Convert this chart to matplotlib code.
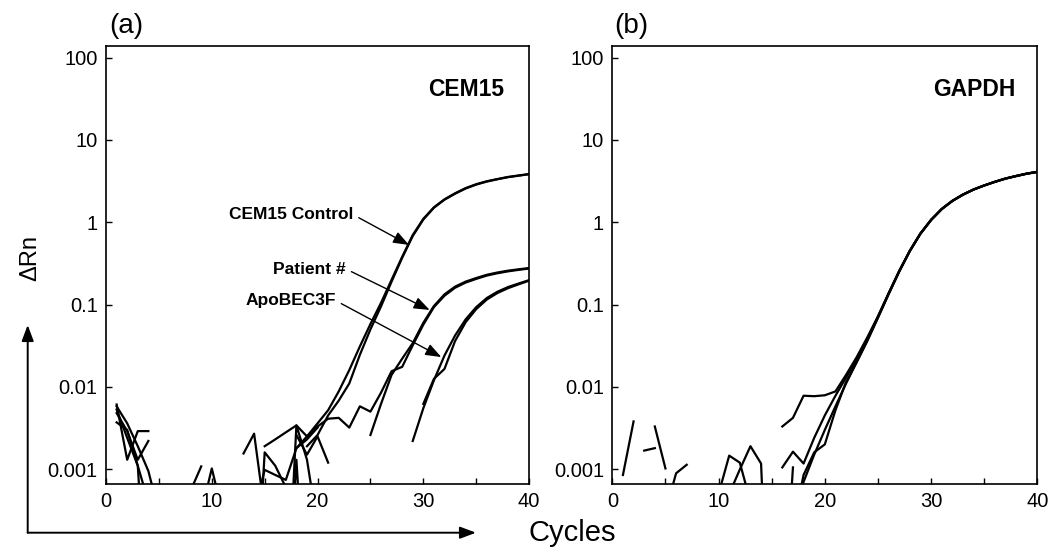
import numpy as np
import matplotlib.pyplot as plt
from matplotlib.patches import FancyArrowPatch

plt.rcParams['font.family'] = ['Liberation Sans', 'DejaVu Sans']

# DATA ------------------------------------------------------------------------
# panel (a) CEM15 (cycle -> delta Rn)
ctrl1_x = list(range(18, 41))
ctrl1_y = [0.0018, 0.0025, 0.0036, 0.0052, 0.0088, 0.016, 0.031, 0.058, 0.105, 0.2,
           0.38, 0.7, 1.1, 1.52, 1.9, 2.25, 2.6, 2.9, 3.15, 3.35, 3.55, 3.7, 3.85]
ctrl2_x = list(range(19, 41))
ctrl2_y = [0.0019, 0.0026, 0.0045, 0.0068, 0.011, 0.0245, 0.05, 0.095, 0.19, 0.37,
           0.68, 1.08, 1.5, 1.88, 2.22, 2.57, 2.87, 3.12, 3.33, 3.53, 3.68, 3.84]
pat1_x = list(range(25, 41))
pat1_y = [0.0026, 0.0062, 0.014, 0.022, 0.034, 0.06, 0.096, 0.133, 0.165, 0.19,
          0.21, 0.23, 0.245, 0.258, 0.268, 0.278]
pat2_x = list(range(15, 41))
pat2_y = [0.0019, 0.0023, 0.0028, 0.0034, 0.0025, 0.0033, 0.0041, 0.0042, 0.0032, 0.0058,
          0.005, 0.0085, 0.0155, 0.0175, 0.032, 0.057, 0.093, 0.128, 0.16, 0.185,
          0.205, 0.225, 0.24, 0.253, 0.264, 0.274]
apo1_x = list(range(29, 41))
apo1_y = [0.0022, 0.0055, 0.012, 0.024, 0.042, 0.066, 0.093, 0.12, 0.143, 0.163, 0.18, 0.198]
apo2_x = list(range(30, 41))
apo2_y = [0.0062, 0.0125, 0.0165, 0.036, 0.061, 0.088, 0.115, 0.138, 0.158, 0.176, 0.195]

# background noise pieces, panel (a)
noise_a_x = [[1, 2, 3, 4], [1, 2, 3, 4, 5], [1, 2, 3, 4], [1, 2, 3, 4], [1, 2, 3, 4],
             [8, 9], [9, 10, 11], [13, 14, 15], [14, 15, 16, 17, 18, 19, 20],
             [14, 15, 16, 17], [17, 18, 19, 20], [17, 18, 19], [18, 19, 20, 21]]
noise_a_y = [[0.0061, 0.0013, 0.0029, 0.0029], [0.0058, 0.0036, 0.0019, 0.00095, 0.0003],
             [0.0048, 0.0029, 0.0013, 0.0022], [0.0053, 0.0024, 0.0011, 0.0004],
             [0.0037, 0.003, 0.0011, 1e-5],
             [0.00055, 0.00108], [0.0003, 0.00102, 0.0003], [0.00155, 0.0027, 0.0003],
             [0.0003, 0.00098, 0.00085, 0.00074, 0.0018, 0.0023, 0.0032],
             [1e-5, 0.0016, 0.0011, 0.0006], [1e-5, 0.0034, 0.0013, 0.0002],
             [1e-5, 0.0013, 1e-5], [0.0026, 0.0015, 0.0025, 0.0012]]

# panel (b) GAPDH
gb1_x = list(range(17, 41))
gb1_y = [0.0002, 0.0007, 0.0015, 0.003, 0.0058, 0.011, 0.02, 0.037, 0.07, 0.135, 0.255, 0.45,
         0.73, 1.07, 1.45, 1.82, 2.17, 2.5, 2.8, 3.1, 3.4, 3.65, 3.9, 4.1]
gb2_x = list(range(17, 41))
gb2_y = [0.0002, 0.00085, 0.0016, 0.002, 0.0052, 0.0115, 0.02, 0.036, 0.069, 0.133, 0.25, 0.445,
         0.725, 1.06, 1.44, 1.81, 2.16, 2.5, 2.8, 3.1, 3.38, 3.63, 3.88, 4.08]
gb3_x = list(range(16, 41))
gb3_y = [0.00105, 0.00163, 0.00117, 0.0024, 0.0045, 0.0078, 0.013, 0.022, 0.038, 0.071, 0.136,
         0.255, 0.45, 0.73, 1.07, 1.45, 1.82, 2.17, 2.5, 2.8, 3.1, 3.4, 3.65, 3.9, 4.1]
gb4_x = list(range(16, 41))
gb4_y = [0.0033, 0.0042, 0.0078, 0.0077, 0.0079, 0.0088, 0.014, 0.023, 0.04, 0.072, 0.137,
         0.255, 0.45, 0.73, 1.07, 1.45, 1.82, 2.17, 2.5, 2.8, 3.1, 3.4, 3.65, 3.9, 4.1]

noise_b_x = [[1, 2], [3, 4], [4, 5], [5, 6, 7], [10, 11, 12, 13], [11, 12, 13, 14, 15], [16, 17]]
noise_b_y = [[0.00085, 0.0038], [0.00168, 0.0018], [0.0033, 0.00102], [0.0003, 0.00089, 0.00113],
             [0.0005, 0.00146, 0.0012, 0.0004], [0.0005, 0.00099, 0.0019, 0.00117, 1e-6],
             [1e-5, 0.00105]]

xticks = [0, 5, 10, 15, 20, 25, 30, 35, 40]
xticklabels = ['0', '', '10', '', '20', '', '30', '', '40']
yticks = [100, 10, 1, 0.1, 0.01, 0.001]
yticklabels = ['100', '10', '1', '0.1', '0.01', '0.001']
# END DATA --------------------------------------------------------------------

LW = 1.6
fig = plt.figure(figsize=(10.51, 5.5), dpi=100)
ax_a = fig.add_axes([0.1009, 0.12, 0.4025, 0.797])
ax_b = fig.add_axes([0.5826, 0.12, 0.4044, 0.797])

for ax in (ax_a, ax_b):
    ax.set_yscale('log')
    ax.set_xlim(0, 40)
    ax.set_ylim(6.6e-4, 140)
    ax.set_xticks(xticks)
    ax.set_xticklabels(xticklabels)
    ax.set_yticks(yticks)
    ax.set_yticklabels(yticklabels)
    ax.yaxis.set_minor_locator(plt.NullLocator())
    ax.tick_params(direction='in', length=4.5, width=1.0, labelsize=14.5, pad=6)
    for s in ax.spines.values():
        s.set_linewidth(1.2)

for x, y in [(ctrl1_x, ctrl1_y), (ctrl2_x, ctrl2_y), (pat1_x, pat1_y),
             (pat2_x, pat2_y), (apo1_x, apo1_y), (apo2_x, apo2_y)]:
    ax_a.plot(x, y, color='k', lw=LW)
for x, y in zip(noise_a_x, noise_a_y):
    ax_a.plot(x, y, color='k', lw=LW)

for x, y in [(gb1_x, gb1_y), (gb2_x, gb2_y), (gb3_x, gb3_y), (gb4_x, gb4_y)]:
    ax_b.plot(x, y, color='k', lw=LW)
for x, y in zip(noise_b_x, noise_b_y):
    ax_b.plot(x, y, color='k', lw=LW)

ax_a.text(0.94, 0.9, 'CEM15', transform=ax_a.transAxes, ha='right', va='center',
          fontsize=16.5, fontweight='bold')
ax_b.text(0.948, 0.9, 'GAPDH', transform=ax_b.transAxes, ha='right', va='center',
          fontsize=16.5, fontweight='bold')

arr = dict(arrowstyle='-|>,head_length=0.8,head_width=0.3', mutation_scale=12,
           color='k', lw=1.0, shrinkA=2, shrinkB=0, relpos=(1, 0.5))
ax_a.annotate('CEM15 Control', xy=(28.65, 0.53), xytext=(23.4, 1.23), ha='right', va='center',
              fontsize=12.5, fontweight='bold', arrowprops=arr)
ax_a.annotate('Patient #', xy=(30.6, 0.086), xytext=(22.7, 0.27), ha='right', va='center',
              fontsize=12.5, fontweight='bold', arrowprops=arr)
ax_a.annotate('ApoBEC3F', xy=(31.7, 0.023), xytext=(21.75, 0.111), ha='right', va='center',
              fontsize=12.5, fontweight='bold', arrowprops=arr)

fig.text(126 / 1051, 1 - 26 / 550, '(a)', ha='center', va='center', fontsize=20)
fig.text(631 / 1051, 1 - 26 / 550, '(b)', ha='center', va='center', fontsize=20)
fig.text(30 / 1051, 1 - 258 / 550, '\u0394Rn', rotation=90, ha='center', va='center', fontsize=17)
fig.text(572 / 1051, 1 - 533 / 550, 'Cycles', ha='center', va='center', fontsize=21)

# axis direction arrows at bottom-left
corner = (27.7 / 1051, 1 - 532.7 / 550)
big = dict(arrowstyle='-|>,head_length=0.8,head_width=0.3', mutation_scale=12,
           color='k', lw=1.4, shrinkA=0, shrinkB=0, transform=fig.transFigure)
fig.add_artist(FancyArrowPatch(corner, (476 / 1051, corner[1]), **big))
fig.add_artist(FancyArrowPatch(corner, (corner[0], 1 - 325 / 550), **big))

fig.savefig('out.png', dpi=100)
